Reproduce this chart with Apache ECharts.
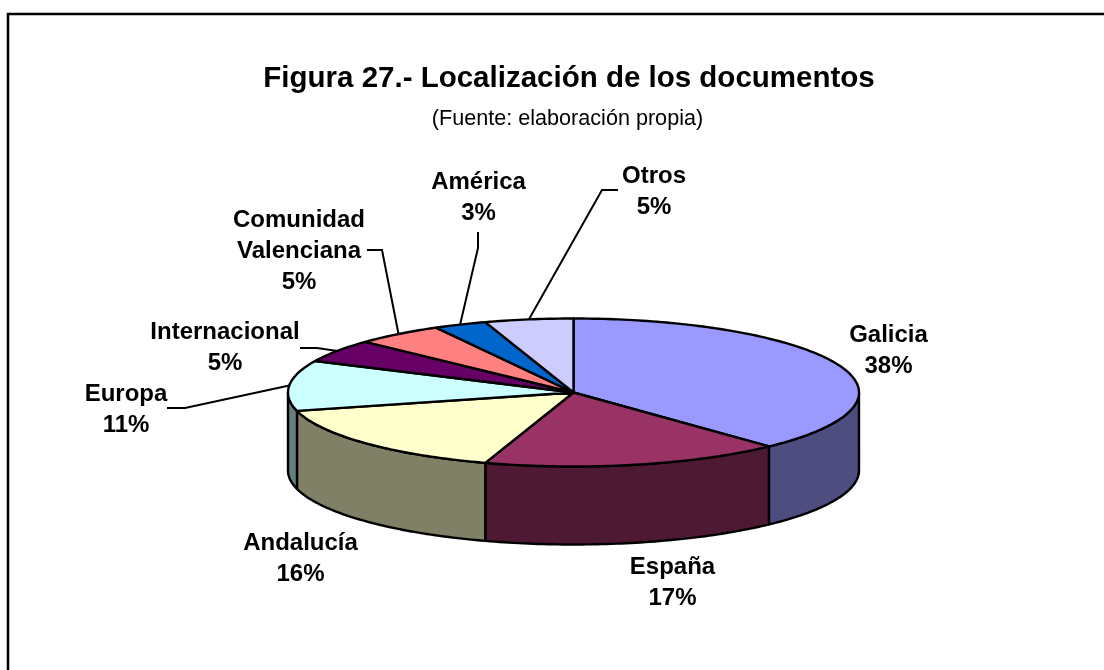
<!DOCTYPE html>
<html>
<head>
<meta charset="utf-8">
<style>html,body{margin:0;padding:0;background:#fff}#c{width:1104px;height:670px}</style>
<script src="https://cdn.jsdelivr.net/npm/echarts@6/dist/echarts.min.js"></script>
</head>
<body>
<div id="c"></div>
<script>
// Data
const categories = ['Galicia','España','Andalucía','Europa','Internacional','Comunidad\nValenciana','América','Otros'];
const values = [38,17,16,11,5,5,3,5];
// Palette
const topColors = ['#9999FF','#993366','#FFFFCC','#CCFFFF','#660066','#FF8080','#0066CC','#CCCCFF'];
const wallColors = ['#4D4D80','#4D1933','#808066','#668080','#330033','#804040','#003366','#666680'];
// Label layout: centre of the text block
const labelCentres = [[888.5,350.5],[672.5,582.5],[300.5,558.5],[126,409.5],[225,348],[299,251.5],[478.5,198],[654,191.5]];
// Leader elbows (empty = no leader)
const leaderElbows = [[],[],[],[[167,408],[185,408]],[[300,348],[317,348]],[[367,250],[382,250]],[[478,232],[478,248]],[[618,190],[602,190]]];
const pieGeom = {cx:573.5, cy:392.5, rx:285.5, ry:74, depth:78};

const total = values.reduce((a,b)=>a+b,0);
const cum = [0];
values.forEach(v=>cum.push(cum[cum.length-1]+v));
const ang = f => f/total*2*Math.PI;
const rim = (t,dy) => [pieGeom.cx+pieGeom.rx*Math.sin(t), pieGeom.cy-pieGeom.ry*Math.cos(t)+(dy||0)];
function arc(a,b,dy){
  const n=Math.max(2,Math.ceil((b-a)/(Math.PI/180)));
  const pts=[];
  for(let i=0;i<=n;i++) pts.push(rim(a+(b-a)*i/n,dy));
  return pts;
}
function renderItem(params){
  const i=params.dataIndex;
  const a=ang(cum[i]), b=ang(cum[i+1]);
  const children=[];
  const wa=Math.max(a,Math.PI/2), wb=Math.min(b,Math.PI*1.5);
  const edge={stroke:'#000',lineWidth:2.4,lineJoin:'round'};
  if(wb>wa){
    const up=arc(wa,wb,0), down=arc(wa,wb,pieGeom.depth).reverse();
    children.push({type:'polygon',shape:{points:up.concat(down)},style:Object.assign({fill:wallColors[i]},edge)});
  }
  children.push({type:'polygon',shape:{points:[[pieGeom.cx,pieGeom.cy]].concat(arc(a,b,0))},style:Object.assign({fill:topColors[i]},edge)});
  if(leaderElbows[i].length){
    children.push({type:'polyline',shape:{points:leaderElbows[i].concat([rim(ang((cum[i]+cum[i+1])/2),0)])},style:{stroke:'#000',lineWidth:2,fill:null}});
  }
  children.push({type:'text',style:{
    text:categories[i]+'\n'+values[i]+'%',
    x:labelCentres[i][0],y:labelCentres[i][1],align:'center',verticalAlign:'middle',
    font:'bold 24px "Liberation Sans", Arial, sans-serif',lineHeight:31,fill:'#000'},z2:10});
  return {type:'group',children};
}
const chart=echarts.init(document.getElementById('c'),null,{renderer:'canvas'});
chart.setOption({
  animation:false,
  backgroundColor:'#fff',
  title:[
    {text:'Figura 27.- Localización de los documentos',left:564,top:59,textAlign:'center',
     textStyle:{fontFamily:'"Liberation Sans", Arial, sans-serif',fontWeight:'bold',fontSize:29.5,color:'#000'}},
    {text:'(Fuente: elaboración propia)',left:562.5,top:103,textAlign:'center',
     textStyle:{fontFamily:'"Liberation Sans", Arial, sans-serif',fontWeight:'normal',fontSize:21.6,color:'#000'}}
  ],
  graphic:[{type:'polyline',silent:true,shape:{points:[[8,670],[8,14],[1104,14]]},style:{stroke:'#000',lineWidth:2.5,fill:null}}],
  series:[{type:'custom',coordinateSystem:'none',renderItem,
    data:categories.map((n,i)=>({name:n,value:values[i]}))}]
});
</script>
</body>
</html>
